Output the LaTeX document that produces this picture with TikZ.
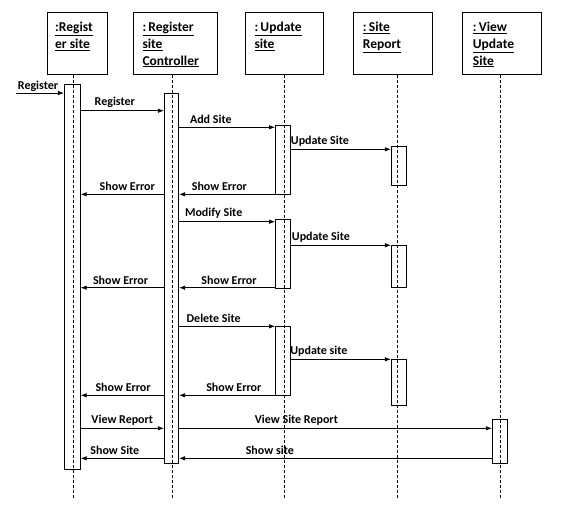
\documentclass[tikz,border=0pt]{standalone}
\usepackage{fontspec}
\setmainfont{Carlito}
\usepackage{tikz}
\usetikzlibrary{calc}
\usetikzlibrary{arrows.meta}
\usetikzlibrary{positioning}
\tikzset{>=latex}
\tikzstyle{obj} = [draw, rectangle, anchor=north west, minimum height=61.7pt, inner sep=0, line width=0.8pt]
\tikzstyle{ttl} = [draw=none, inner sep=0, anchor=north west, align=left, font=\bfseries\fontsize{13.5}{16.7}\selectfont]
\tikzstyle{act} = [draw, rectangle, anchor=north, minimum width=15pt, inner sep=0, line width=0.8pt]
\tikzstyle{life} = [line width=0.7pt, dash pattern=on 3pt off 2pt]
\tikzstyle{msg} = [-{Latex[length=6pt,width=4.5pt]}, line width=0.8pt]
\tikzstyle{lbl} = [draw=none, above, inner sep=1.5pt, yshift=1.5pt, font=\bfseries\fontsize{12}{13}\selectfont]

\begin{document}
\begin{tikzpicture}[x=1pt, y=-1pt]
\useasboundingbox (0,0) rectangle (561,523);
% objects
\node [obj, minimum width=60pt] (reg) at (46.7, 12.3) {};
\node [obj, minimum width=84pt] (ctl) at (132.7, 12.3) {};
\node [obj, minimum width=78.6pt] (upd) at (244.7, 12.3) {};
\node [obj, minimum width=79pt] (rep) at (353.3, 12.3) {};
\node [obj, minimum width=78.4pt] (view) at (462.3, 12.3) {};
\node [ttl, below right=9.7pt and 8.3pt of reg.north west] {\underline{:Regist}\\\underline{er site}};
\node [ttl, below right=9.7pt and 9.6pt of ctl.north west] {\underline{:\,Register}\\\underline{site}\\\underline{Controller}};
\node [ttl, below right=9.7pt and 9.6pt of upd.north west] {\underline{:\,Update}\\\underline{site}};
\node [ttl, below right=9.7pt and 9.4pt of rep.north west] {\underline{:\,Site}\\\underline{Report}};
\node [ttl, below right=9.7pt and 10.4pt of view.north west] {\underline{:\,View}\\\underline{Update}\\\underline{Site}};
% lifelines
\foreach \o/\x in {reg/73.3, ctl/172.3, upd/284.3, rep/397.3, view/500.3}
  \draw [life] (\o.south -| \x,0) -- (\x,498);
% activations
\node [act, minimum width=16pt, minimum height=385pt] (A1) at (72.3, 84.3) {};
\node [act, minimum width=14.4pt, minimum height=370pt] (A2) at (171.5, 93) {};
\node [act, minimum height=69.3pt] (U1) at (283, 125) {};
\node [act, minimum height=39.3pt] (S1) at (398.8, 146) {};
\node [act, minimum height=68.4pt] (U2) at (283, 219.3) {};
\node [act, minimum height=42pt] (S2) at (398.8, 245.3) {};
\node [act, minimum height=69pt] (U3) at (283, 326.3) {};
\node [act, minimum height=46pt] (S3) at (398.8, 359.3) {};
\node [act, minimum height=44pt] (V1) at (499.8, 419.3) {};
\coordinate (start) at (16, 93);
% messages
\draw [msg] (start) -- (A1.west |- start) node [lbl, pos=0.46, yshift=-1.5pt] {Register};
\draw [msg] (A1.east |- 0,110.7) -- (A2.west |- 0,110.7) node [lbl, pos=0.41] {Register};
\draw [msg] (A2.east |- 0,127.3) -- (U1.west |- 0,127.3) node [lbl, pos=0.33] {Add Site};
\draw [msg] (U1.east |- 0,149.3) -- (S1.west |- 0,149.3) node [lbl, pos=0.29] {Update Site};
\draw [msg] (U1.west |- 0,194.3) -- (A2.east |- 0,194.3) node [lbl, pos=0.58] {Show Error};
\draw [msg] (A2.west |- 0,194.3) -- (A1.east |- 0,194.3) node [lbl, pos=0.44] {Show Error};
\draw [msg] (A2.east |- 0,221.7) -- (U2.west |- 0,221.7) node [lbl, pos=0.36] {Modify Site};
\draw [msg] (U2.east |- 0,245.3) -- (S2.west |- 0,245.3) node [lbl, pos=0.30] {Update Site};
\draw [msg] (U2.west |- 0,287.7) -- (A2.east |- 0,287.7) node [lbl, pos=0.48] {Show Error};
\draw [msg] (A2.west |- 0,287.7) -- (A1.east |- 0,287.7) node [lbl, pos=0.52] {Show Error};
\draw [msg] (A2.east |- 0,326.3) -- (U3.west |- 0,326.3) node [lbl, pos=0.36] {Delete Site};
\draw [msg] (U3.east |- 0,359.3) -- (S3.west |- 0,359.3) node [lbl, pos=0.28] {Update site};
\draw [msg] (U3.west |- 0,395.3) -- (A2.east |- 0,395.3) node [lbl, pos=0.43] {Show Error};
\draw [msg] (A2.west |- 0,395.3) -- (A1.east |- 0,395.3) node [lbl, pos=0.49] {Show Error};
\draw [msg] (A1.east |- 0,428.3) -- (A2.west |- 0,428.3) node [lbl, pos=0.50] {View Report};
\draw [msg] (A2.east |- 0,428.3) -- (V1.west |- 0,428.3) node [lbl, pos=0.375] {View Site Report};
\draw [msg] (A2.west |- 0,458.3) -- (A1.east |- 0,458.3) node [lbl, pos=0.59] {Show Site};
\draw [msg] (V1.west |- 0,458.3) -- (A2.east |- 0,458.3) node [lbl, pos=0.71] {Show site};
\end{tikzpicture}
\end{document}
